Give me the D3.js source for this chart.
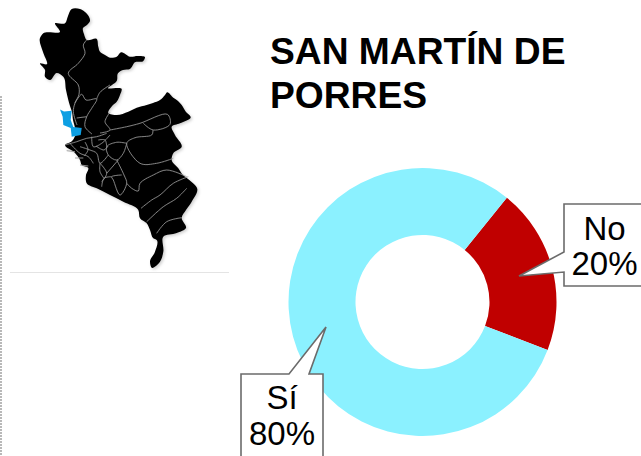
<!DOCTYPE html>
<html><head><meta charset="utf-8">
<script src="https://cdn.jsdelivr.net/npm/d3@7"></script>
<style>html,body{margin:0;padding:0;background:#fff;overflow:hidden}svg{display:block}text{font-family:"Liberation Sans",Arial,sans-serif}</style>
</head><body><svg id="c" width="641" height="456"></svg>
<script>
const titleLines = ["SAN MARTÍN DE", "PORRES"];
const categories = ["No", "Sí"];
const values = [20, 80];
const colors = ["#C00000", "#8BF1FF"];
const percentLabels = ["20%", "80%"];
// Map
const mapOutline = [[71.7,9],[80,9],[85,12],[89,16.7],[90,21],[87,25],[83,28],[84,34],[86.7,40],[96.7,39],[98.3,46.7],[100,51.7],[105,55],[110,57.7],[116.7,56.7],[121,52.3],[130,56.7],[138,56],[145,57.3],[143.3,61],[135,62.3],[130,69],[123,70],[118,73.3],[116.7,81],[112,85],[108,88],[121.7,89],[120,95],[116.7,101.7],[113,105],[108.3,113],[116.7,115],[128.3,111.7],[136.7,107.7],[146.7,105],[153,103],[160,100],[165,95],[167,92.3],[173.3,97.7],[178,101],[181.7,105],[186,112],[190.7,117],[180,123.3],[171.7,126.7],[175,135],[181.7,146.7],[173.3,153.3],[171.7,160],[178.3,168.3],[183,175],[188,179],[197.3,189],[191.7,201.7],[186,210],[181.7,217.7],[186,227.7],[176.7,233],[163.3,236.7],[163.3,251.7],[160,261.7],[151.7,267.7],[150,261.7],[155,251.7],[156.7,240],[153.3,238.3],[150,230],[146.7,223.3],[140,218.3],[138.3,210],[123.3,201.7],[110,195],[96.7,188.3],[86.7,183.3],[86,175],[88.3,168],[81.7,165],[80,160],[75,153],[65,145],[72,141],[75,136],[75,128],[73,120],[72,112],[70,106],[68.3,100],[66,90],[63.3,76.7],[56.7,73],[50,80],[45,76.7],[45,70],[40,63.3],[46.7,64.3],[43,52],[40,38],[43.3,33.3],[60,31.7],[55,23.3],[65,23.3],[68,16]];
const mapHighlight = [[60,109.5],[64,111.5],[71.7,110.7],[70.7,120],[73.3,127],[81.7,128],[80.7,135],[71.7,136.7],[70.7,128],[63.3,125],[62.7,116.7]];
const mapBorders = [
 [[86.7,40],[83.3,45],[85,53.3],[78.3,63.3],[68.3,73.3],[78.3,85],[79,94.3],[75,103],[73.3,111.7],[77,125]],
 [[75,103],[81.7,94.3],[86,100],[96.7,99],[91.7,108.3],[86.7,116.7],[85,126.7],[92,134]],
 [[110,85],[100,92.3],[96.7,99]],
 [[76.7,118],[86.7,116.7]],
 [[110,112.3],[105,121.7],[110,130],[100,133]],
 [[110,130],[126.7,126.7],[140,123.3],[167.3,114.3],[170,124.3],[153.3,130],[143.3,123.3]],
 [[153,130],[151.7,135],[135,137.7],[126.7,143.3],[140,163.3],[156.7,163.3],[173.3,158.3]],
 [[126.7,143.3],[123.3,153.3],[116.7,160],[108.3,155],[106.7,146.7],[116.7,142.3],[126.7,143.3]],
 [[116.7,160],[124,175],[126.7,183.3],[120,195],[113.3,180],[111.7,176.7],[121.7,175]],
 [[126.7,183.3],[131.7,188.3],[138.3,191],[140,183.3],[153.3,175],[166.7,170],[186.7,176.7]],
 [[141,208.3],[151.7,200],[160,195],[173.3,183.3],[188.3,176.7]],
 [[146.7,221.7],[163.3,206.7],[176.7,198.3],[186.7,188.3]],
 [[156.7,233.3],[166.7,221.7],[181.7,217.7]],
 [[101.7,186.7],[104,178.3],[111.7,176.7]],
 [[104,178.3],[100,171.7],[100,163.3]],
 [[65,145],[76.7,141.7],[86.7,138.3],[96.7,136.7],[106.7,133.3]],
 [[80,146.7],[90,150],[96.7,153.3],[100,163.3],[108.3,155]],
 [[70,143.3],[80,153.3],[88.3,156.7],[93.3,163.3]],
 [[91.7,136.7],[93.3,146.7],[101.7,143.3],[110,135]],
 [[98.3,140],[105,140],[106.7,146.7]],
 [[100,163.3],[106.7,173.3],[101.7,181.7]],
 [[106.7,173.3],[118.3,160]],
 [[85,142],[88,150],[84,156]],
 [[96,146],[104,150],[108,146]]
];
const mapDashes = [[[66.7,150.7],[75,151.7]],[[75,158],[83.3,158]],[[80,165],[88.3,166]]];

const svg = d3.select("#c");
const defs = svg.append("defs");
const blur = defs.append("filter").attr("id","soft").attr("x","-10%").attr("y","-10%").attr("width","120%").attr("height","120%");
blur.append("feGaussianBlur").attr("stdDeviation",0.4);
const shadow = defs.append("filter").attr("id","shadow").attr("x","-10%").attr("y","-10%").attr("width","125%").attr("height","125%");
shadow.append("feGaussianBlur").attr("stdDeviation",1.6);

// page rules
svg.append("line").attr("x1",1).attr("x2",1).attr("y1",96).attr("y2",456).attr("stroke","#8a8a8a").attr("stroke-width",1.2).attr("stroke-dasharray","2 1");
svg.append("line").attr("x1",10).attr("x2",229).attr("y1",272.5).attr("y2",272.5).attr("stroke","#e4e4e4").attr("stroke-width",1);

// map
const ln = d3.line();
const lnC = d3.line().curve(d3.curveCatmullRom.alpha(0.5));
const lnO = d3.line().curve(d3.curveCatmullRomClosed.alpha(0.9));
svg.append("path").attr("d",lnO(mapOutline)).attr("fill","#888").attr("opacity",0.4).attr("transform","translate(1.5,1.5)").attr("filter","url(#shadow)");
const map = svg.append("g").attr("filter","url(#soft)");
map.append("path").attr("d",lnO(mapOutline)).attr("fill","#050505");
map.selectAll("path.b").data(mapBorders).join("path").attr("class","b").attr("d",d=>lnC(d)).attr("fill","none").attr("stroke","#a0a0a0").attr("stroke-width",0.8);
map.selectAll("path.d").data(mapDashes).join("path").attr("class","d").attr("d",d=>ln(d)).attr("fill","none").attr("stroke","#999").attr("stroke-width",0.9);
map.append("path").attr("d",ln(mapHighlight)+"Z").attr("fill","#0E9FE3");

// title
svg.append("g").selectAll("text").data(titleLines).join("text")
 .attr("x",270).attr("y",(d,i)=>63.5+i*44.5).attr("font-size",37.2).attr("font-weight",700).attr("fill","#000").text(d=>d);

// donut
const cx=422.5, cy=302, R=134, r0=67;
const startDeg = 39;
const pie = d3.pie().sort(null).value(d=>d).startAngle(startDeg*Math.PI/180).endAngle((startDeg+360)*Math.PI/180);
const arc = d3.arc().innerRadius(r0).outerRadius(R);
svg.append("g").attr("transform",`translate(${cx},${cy})`).selectAll("path").data(pie(values)).join("path")
 .attr("d",arc).attr("fill",(d,i)=>colors[i]);

// callouts
const callouts = [
 {pts:[[564,204],[645,204],[645,286],[564,286],[564,272],[519,276],[564,252]], cx:604.5, base:[240,275], i:0},
 {pts:[[241,374],[289,374],[326,327],[309,374],[323,374],[323,460],[241,460]], cx:282, base:[409,445], i:1}
];
callouts.forEach(c=>{
 svg.append("path").attr("d",d3.line()(c.pts)+"Z").attr("fill","#fff").attr("stroke","#6b6b6b").attr("stroke-width",1.6).attr("stroke-linejoin","miter");
 svg.append("text").attr("x",c.cx).attr("y",c.base[0]).attr("text-anchor","middle").attr("font-size",33).attr("fill","#000").text(categories[c.i]);
 svg.append("text").attr("x",c.cx).attr("y",c.base[1]).attr("text-anchor","middle").attr("font-size",33).attr("fill","#000").text(percentLabels[c.i]);
});
</script></body></html>
